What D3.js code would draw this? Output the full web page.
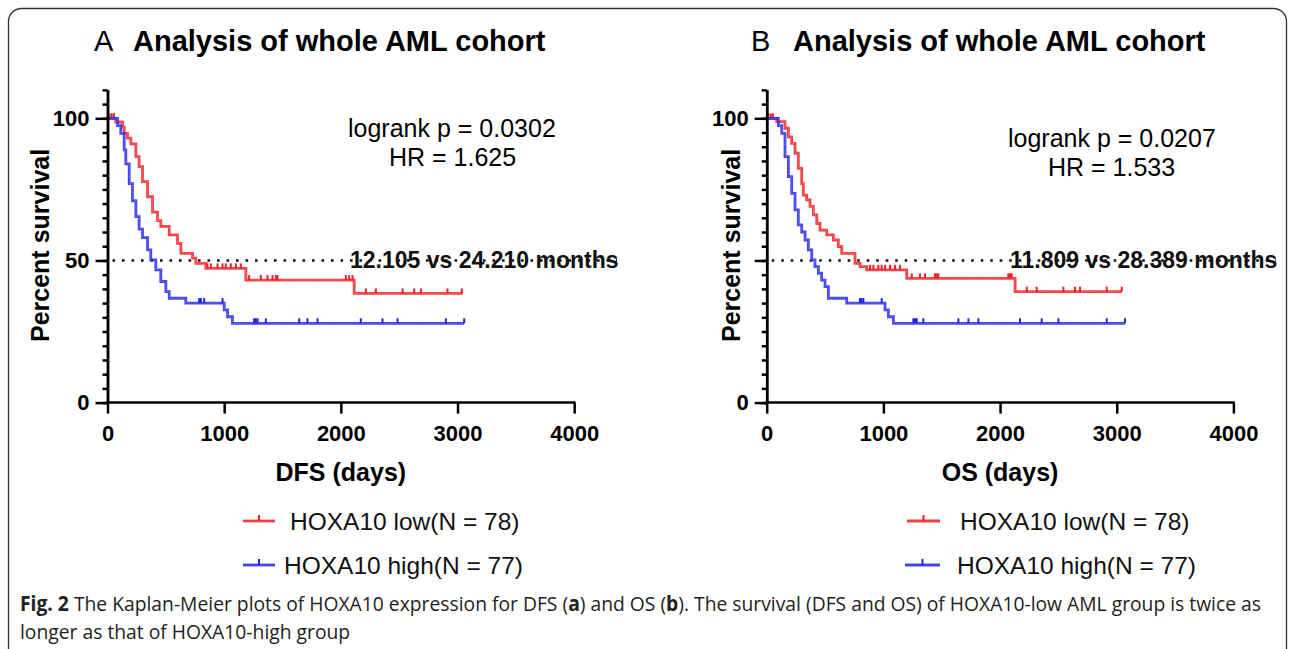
<!DOCTYPE html>
<html>
<head>
<meta charset="utf-8">
<script src="https://cdn.jsdelivr.net/npm/d3@7"></script>
<style>
  html, body { margin: 0; padding: 0; background: #fff; }
  svg { display: block; }
</style>
</head>
<body>
<svg id="chart" width="1295" height="649"></svg>
<script>
// ---------------- DATA ----------------
const xTicks = [0, 1000, 2000, 3000, 4000];
const yMajorTicks = [0, 50, 100];
const yMajorLabelsA = ["0", "50", "100"];
const yMajorLabelsB = ["0", "", "100"];   // the "50" label is hidden in panel B
const yMinorTicks = d3.range(0, 111, 5);

const seriesNames = ["HOXA10 low(N = 78)", "HOXA10 high(N = 77)"];
const panelLetters = ["A", "B"];
const panelTitles = ["Analysis of whole AML cohort", "Analysis of whole AML cohort"];
const xAxisTitles = ["DFS (days)", "OS (days)"];
const logrankTexts = ["logrank p = 0.0302", "logrank p = 0.0207"];
const hrTexts = ["HR = 1.625", "HR = 1.533"];
const medianTexts = ["12.105 vs 24.210 months", "11.809 vs 28.389 months"];

// [day, percent survival] step points
const dfsLow = [[0,100],[71,98.7],[129,97],[143,94.7],[171,93],[200,91],[243,86.5],[271,83],[300,77.7],[343,72.4],[386,67],[429,64],[457,62],[529,59],[600,56],[629,52.5],[729,50.8],[757,49],[843,47.2],[1186,43.1],[2114,38.4],[3043,38.4]];
const dfsHigh = [[0,100],[86,97.4],[114,94.7],[143,88.9],[157,84],[186,77],[214,71],[243,65.4],[271,61],[300,58],[343,53.7],[371,50.2],[414,46.7],[457,42.6],[500,39],[529,36.7],[671,35],[1000,32.6],[1029,30.2],[1071,27.9],[3057,27.9]];
const osLow = [[0,100],[86,98.8],[157,96.5],[186,93.5],[214,91.2],[243,87.7],[271,82.4],[300,77],[314,73],[343,71.3],[371,69],[400,66],[429,63],[457,60.7],[514,59],[571,57.2],[614,54.9],[643,52.5],[757,49],[800,47.8],[857,46.7],[1200,43.7],[2129,39],[3043,39]];
const osHigh = [[0,100],[100,97.4],[129,94.7],[157,86.5],[186,79.5],[214,73.6],[243,67.8],[271,62.5],[300,60],[329,57.2],[357,53.7],[386,50.2],[414,47.8],[443,45.5],[471,43.1],[500,40.8],[529,36.7],[686,35],[1014,32.6],[1043,30.2],[1086,27.9],[3071,27.9]];

// censor mark days
const dfsLowCensor = [15,35,55,857,886,943,986,1014,1057,1100,1143,1214,1314,1371,1414,1443,1457,2043,2071,2100,2214,2300,2529,2629,2686,2914,3037];
const dfsHighCensor = [786,800,829,986,1257,1271,1286,1357,1643,1714,1800,2171,2357,2486,2900,3057];
const osLowCensor = [15,35,55,886,914,957,986,1014,1057,1100,1143,1243,1314,1357,1443,1457,1471,2071,2086,2100,2229,2314,2543,2643,2686,2914,3043];
const osHighCensor = [800,814,829,986,1257,1271,1286,1343,1643,1729,1814,2171,2357,2500,2914,3071];

const captionLine1 = [["Fig. 2", true], [" The Kaplan-Meier plots of HOXA10 expression for DFS (", false], ["a", true], [") and OS (", false], ["b", true], ["). The survival (DFS and OS) of HOXA10-low AML group is twice as", false]];
const captionLine2 = "longer as that of HOXA10-high group";

// ---------------- DRAWING ----------------
const RED = "#f01f25", BLUE = "#2424e8";
const svg = d3.select("#chart");
const FONT = "'Liberation Sans', Arial, sans-serif";

svg.append("rect").attr("x", 8.5).attr("y", 8.5).attr("width", 1278).attr("height", 700)
  .attr("rx", 13).attr("fill", "none").attr("stroke", "#333").attr("stroke-width", 1.3);

const panels = [
  { left: 107.5, low: dfsLow, high: dfsHigh, lowC: dfsLowCensor, highC: dfsHighCensor, yLabels: yMajorLabelsA,
    letterX: 94, titleX: 133, annY: 136.5, hrX: 389, logX: 348, medX: 350, medEnd: 617, yTitleX: 40,
    leg: { lowLine: [243, 275], highLine: [243, 275], lowText: 290, highText: 284 } },
  { left: 766.7, low: osLow, high: osHigh, lowC: osLowCensor, highC: osHighCensor, yLabels: yMajorLabelsB,
    letterX: 751, titleX: 793, annY: 146.5, hrX: 1048, logX: 1008, medX: 1010, medEnd: 1276, yTitleX: 731,
    leg: { lowLine: [907, 940], highLine: [905, 940], lowText: 960, highText: 957 } }
];

function stepValue(curve, t) {
  let v = curve[0][1];
  for (const p of curve) { if (p[0] <= t) v = p[1]; }
  return v;
}

function styleTicks(sel) {
  sel.selectAll("text")
    .style("font-family", FONT).style("font-size", "22px").style("font-weight", "bold").attr("fill", "#000");
}

panels.forEach((P, i) => {
  const g = svg.append("g");
  const x = d3.scaleLinear().domain([0, 4000]).range([P.left, P.left + 466.7]);
  const y = d3.scaleLinear().domain([0, 110]).range([402.6, 402.6 - 284.3 * 1.1]);

  // title
  g.append("text").attr("x", P.letterX).attr("y", 51).attr("font-family", FONT)
    .attr("font-size", 29).text(panelLetters[i]);
  g.append("text").attr("x", P.titleX).attr("y", 51).attr("font-family", FONT)
    .attr("font-size", 29).attr("font-weight", "bold").text(panelTitles[i]);

  // median dotted line (drawn before text)
  g.append("line").attr("x1", P.left + 5).attr("x2", P.medEnd).attr("y1", y(50)).attr("y2", y(50))
    .attr("stroke", "#111").attr("stroke-width", 2.6).attr("stroke-dasharray", "2.6,6.9");

  // curves
  const line = d3.line().x(d => x(d[0])).y(d => y(d[1])).curve(d3.curveStepAfter);
  [[P.low, P.lowC, RED], [P.high, P.highC, BLUE]].forEach(([data, cens, col]) => {
    g.append("path").datum(data).attr("d", line).attr("fill", "none")
      .attr("stroke", col).attr("stroke-width", 2.8).attr("stroke-opacity", 0.85);
    g.append("path").datum(data).attr("d", line).attr("fill", "none")
      .attr("stroke", "#fff").attr("stroke-width", 0.7).attr("stroke-opacity", 0.35)
      .attr("stroke-dasharray", "1,1.2");
    g.selectAll(null).data(cens).join("line")
      .attr("x1", d => x(d)).attr("x2", d => x(d))
      .attr("y1", d => y(stepValue(data, d)))
      .attr("y2", d => y(stepValue(data, d)) - 5)
      .attr("stroke", col).attr("stroke-width", 2);
  });

  // axes
  const yMinor = d3.axisLeft(y).tickValues(yMinorTicks).tickSize(5).tickFormat("").tickSizeOuter(0);
  const yMajor = d3.axisLeft(y).tickValues(yMajorTicks).tickSize(12).tickPadding(6)
    .tickFormat((d, k) => P.yLabels[k]).tickSizeOuter(0);
  const xAx = d3.axisBottom(x).tickValues(xTicks).tickSize(11).tickPadding(12)
    .tickFormat(d3.format("d")).tickSizeOuter(0);
  [yMinor, yMajor].forEach(a => {
    const ag = g.append("g").attr("transform", `translate(${P.left},0)`).call(a);
    ag.selectAll("path,line").attr("stroke", "#000").attr("stroke-width", 2.5);
    styleTicks(ag);
  });
  const xg = g.append("g").attr("transform", `translate(0,${y(0)})`).call(xAx);
  xg.select(".domain").attr("d", `M${P.left - 1.2},0H${P.left + 466.7 + 1.2}`);
  xg.selectAll("path,line").attr("stroke", "#000").attr("stroke-width", 2.5);
  styleTicks(xg);

  // axis titles
  g.append("text").attr("transform", `translate(${P.yTitleX + 9},${y(50) - 15}) rotate(-90)`)
    .attr("text-anchor", "middle").attr("font-family", FONT).attr("font-size", 25)
    .attr("font-weight", "bold").text("Percent survival");
  g.append("text").attr("x", x(2000)).attr("y", 481).attr("text-anchor", "middle")
    .attr("font-family", FONT).attr("font-size", 25).attr("font-weight", "bold").text(xAxisTitles[i]);

  // annotations
  g.append("text").attr("x", P.logX).attr("y", P.annY).attr("font-family", FONT).attr("font-size", 25).text(logrankTexts[i]);
  g.append("text").attr("x", P.hrX).attr("y", P.annY + 29.5).attr("font-family", FONT).attr("font-size", 25).text(hrTexts[i]);
  g.append("text").attr("x", P.medX).attr("y", 268).attr("font-family", FONT).attr("font-size", 23)
    .attr("font-weight", "bold").attr("fill", "#111").text(medianTexts[i]);

  // legend
  const L = P.leg;
  [[L.lowLine, L.lowText, 521, RED, seriesNames[0]], [L.highLine, L.highText, 565, BLUE, seriesNames[1]]]
    .forEach(([ln, tx, yy, col, name]) => {
      g.append("line").attr("x1", ln[0]).attr("x2", ln[1]).attr("y1", yy).attr("y2", yy)
        .attr("stroke", col).attr("stroke-width", 2.8).attr("stroke-opacity", 0.85);
      const mx = (ln[0] + ln[1]) / 2;
      g.append("line").attr("x1", mx).attr("x2", mx).attr("y1", yy).attr("y2", yy - 6)
        .attr("stroke", col).attr("stroke-width", 2);
      g.append("text").attr("x", tx).attr("y", yy + 8.5).attr("font-family", FONT)
        .attr("font-size", 24.5).attr("fill", "#111").text(name);
    });
});

// caption
const CAP = "'Open Sans', 'Noto Sans', sans-serif";
const c1 = svg.append("text").attr("x", 0).attr("y", 0).attr("font-family", CAP).attr("font-size", 20.5).attr("fill", "#222");
captionLine1.forEach(([t, b]) => c1.append("tspan").attr("font-weight", b ? "bold" : "normal").text(t));
const w1 = c1.node().getComputedTextLength();
const s = 1242 / w1;
c1.attr("transform", `translate(20,611) scale(${s},1)`);
svg.append("text").attr("transform", `translate(20,639) scale(${s},1)`).attr("font-family", CAP)
  .attr("font-size", 20.5).attr("fill", "#222").text(captionLine2);
</script>
</body>
</html>
